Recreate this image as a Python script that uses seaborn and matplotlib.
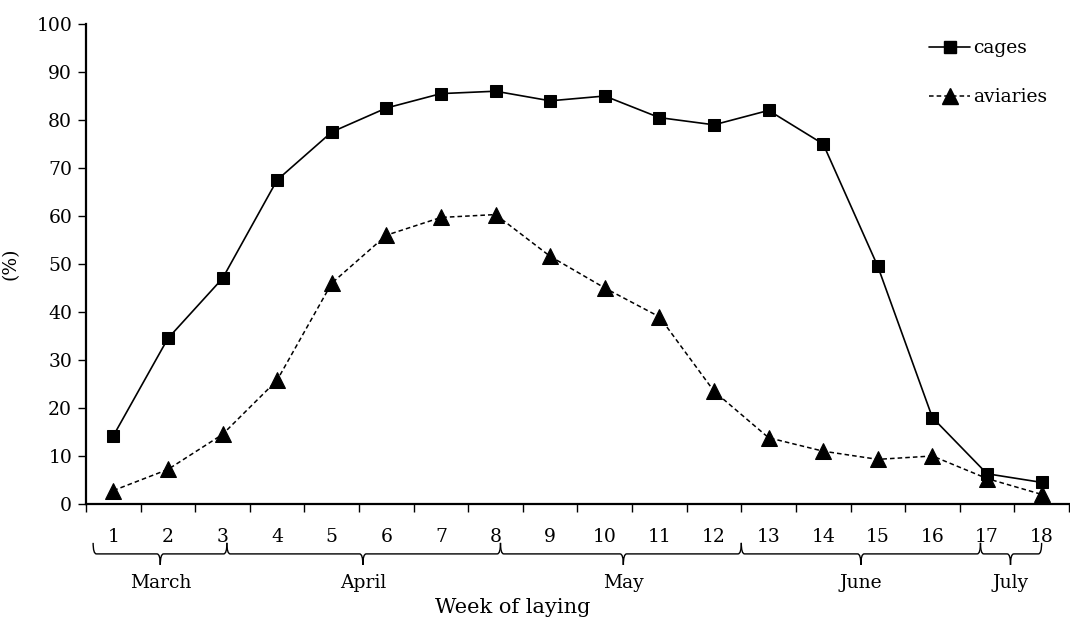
import matplotlib
matplotlib.use("Agg")
import matplotlib.pyplot as plt
from matplotlib.path import Path
from matplotlib.patches import PathPatch
from matplotlib.lines import Line2D
from matplotlib.transforms import blended_transform_factory
import numpy as np
import pandas as pd
import seaborn as sns

# Weekly laying rate (%) by housing system
weeks = list(range(1, 19))
cages = [14.2, 34.5, 47.0, 67.5, 77.5, 82.5, 85.5, 86.0, 84.0, 85.0,
         80.5, 79.0, 82.0, 75.0, 49.5, 18.0, 6.3, 4.5]
aviaries = [2.8, 7.2, 14.5, 25.8, 46.0, 56.0, 59.7, 60.3, 51.6, 45.0,
            39.0, 23.5, 13.8, 11.0, 9.3, 10.0, 5.3, 2.0]

# Months spanned by the weeks: (name, start, end, label position)
months = ["March", "April", "May", "June", "July"]
month_start = [0.63, 3.08, 8.09, 12.5, 16.88]
month_end = [3.08, 8.09, 12.5, 16.88, 18.0]
month_mid = [1.86, 5.57, 10.34, 14.69, 17.43]

y_ticks = list(range(0, 101, 10))

sns.set_theme(style="white")
plt.rcParams["font.family"] = ["DejaVu Serif"]
plt.rcParams["font.size"] = 13.5
plt.rcParams["text.color"] = "black"
plt.rcParams["axes.labelcolor"] = "black"
plt.rcParams["xtick.color"] = "black"
plt.rcParams["ytick.color"] = "black"

df = pd.DataFrame({"week": weeks * 2,
                   "rate": cages + aviaries,
                   "group": ["cages"] * 18 + ["aviaries"] * 18})

fig = plt.figure(figsize=(10.70, 6.19), dpi=100)
ax = fig.add_axes([0.0804, 0.1858, 0.9186, 0.7754])

sns.lineplot(data=df[df.group == "cages"], x="week", y="rate", ax=ax,
             color="black", linewidth=1.2, marker="s", markersize=9,
             markeredgecolor="black", legend=False)
sns.lineplot(data=df[df.group == "aviaries"], x="week", y="rate", ax=ax,
             color="black", linewidth=1.1, linestyle=(0, (3, 2)), marker="^",
             markersize=11, markeredgecolor="black", legend=False)

ax.set_xlim(0.5, 18.5)
ax.set_ylim(0, 100)
ax.set_yticks(y_ticks)
ax.set_xticks(weeks)
ax.set_xticklabels([str(w) for w in weeks])
ax.set_xticks(np.arange(0.5, 19, 1), minor=True)
ax.tick_params(axis="x", which="major", length=0, pad=17, labelsize=13.5,
               labelcolor="black")
ax.tick_params(axis="x", which="minor", length=6, width=1.0, direction="out",
               color="black", bottom=True)
ax.tick_params(axis="y", length=6, width=1.0, direction="out", color="black",
               left=True, labelsize=13.5, pad=4, labelcolor="black")
for s in ["top", "right"]:
    ax.spines[s].set_visible(False)
for s in ["left", "bottom"]:
    ax.spines[s].set_color("black")
    ax.spines[s].set_linewidth(1.6)
ax.set_xlabel("")
ax.set_ylabel("(%)", fontsize=13.5, labelpad=12, color="black")

# Curly braces grouping weeks into months
trans = blended_transform_factory(ax.transData, ax.transAxes)
y_top, y_mid, y_tip = -0.081, -0.104, -0.127
for name, x0, x1, xm in zip(months, month_start, month_end, month_mid):
    c = 0.06
    verts = [(x0, y_top), (x0, y_mid), (x0 + c, y_mid),
             (xm - c, y_mid), (xm, y_mid), (xm, y_tip),
             (xm, y_mid), (xm + c, y_mid),
             (x1 - c, y_mid), (x1, y_mid), (x1, y_top)]
    codes = [Path.MOVETO, Path.CURVE3, Path.CURVE3,
             Path.LINETO, Path.CURVE3, Path.CURVE3,
             Path.CURVE3, Path.CURVE3,
             Path.LINETO, Path.CURVE3, Path.CURVE3]
    ax.add_patch(PathPatch(Path(verts, codes), transform=trans, fill=False,
                           edgecolor="black", linewidth=1.0, clip_on=False))
    ax.text(xm, -0.165, name, transform=trans, ha="center", va="center",
            fontsize=13.5, color="black")

ax.text(8.31, -0.215, "Week of laying", transform=trans, ha="center",
        va="center", fontsize=15, color="black")

handles = [Line2D([], [], color="black", linewidth=1.2, marker="s",
                  markersize=9),
           Line2D([], [], color="black", linewidth=1.1,
                  linestyle=(0, (3, 2)), marker="^", markersize=11)]
leg = ax.legend(handles, ["cages", "aviaries"], loc="upper right",
                bbox_to_anchor=(0.995, 1.003), frameon=False,
                handlelength=2.2, handletextpad=0.15, labelspacing=1.65,
                fontsize=13.5)
for t in leg.get_texts():
    t.set_color("black")

fig.savefig("out.png", dpi=100)
